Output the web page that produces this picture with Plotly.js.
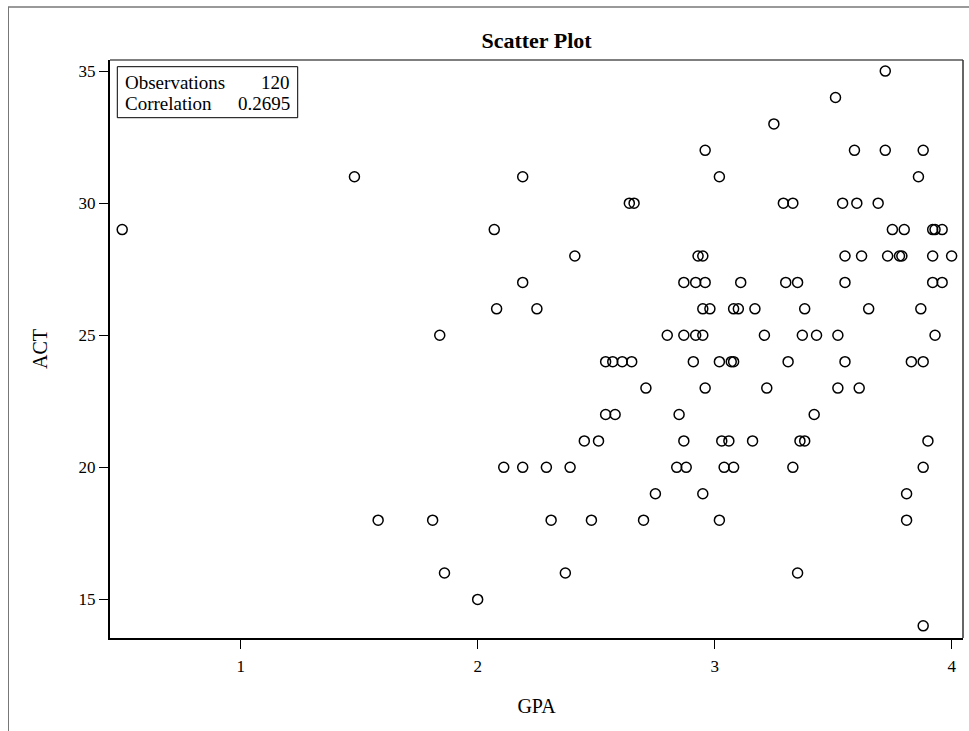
<!DOCTYPE html>
<html><head><meta charset="utf-8">
<script src="https://cdn.plot.ly/plotly-3.0.1.min.js"></script>
<style>html,body{margin:0;padding:0;background:#fff}#chart{width:969px;height:731px}</style>
</head><body><div id="chart"></div>
<script>
const gpa = [0.50,1.48,2.19,2.07,2.41,2.19,2.08,2.25,1.84,
2.11,2.19,2.29,2.39,
1.58,1.81,2.31,
1.86,2.37,
2.00,
2.96,3.02,2.64,2.66,2.93,2.95,
2.87,2.92,2.96,3.11,
2.95,2.98,3.08,3.10,3.17,
2.80,2.87,2.92,2.95,3.21,
2.54,2.57,2.61,2.65,2.91,3.02,3.07,3.08,
2.71,2.96,3.22,
2.54,2.58,2.85,
2.45,2.51,2.87,3.03,3.06,3.16,
2.84,2.88,3.04,3.08,
2.75,2.95,
2.48,2.70,3.02,
3.72,3.51,3.25,
3.59,3.72,3.88,
3.86,
3.29,3.33,3.54,3.60,3.69,
3.75,3.80,3.92,3.93,3.96,
3.55,3.62,3.73,3.78,3.79,3.92,4.00,
3.30,3.35,3.55,3.92,3.96,
3.38,3.65,3.87,
3.37,3.43,3.52,3.93,
3.31,3.55,3.83,3.88,
3.52,3.61,
3.42,
3.36,3.38,3.90,
3.33,3.88,
3.81,
3.81,
3.35,
3.88];
const act = [29,31,31,29,28,27,26,26,25,
20,20,20,20,
18,18,18,
16,16,
15,
32,31,30,30,28,28,
27,27,27,27,
26,26,26,26,26,
25,25,25,25,25,
24,24,24,24,24,24,24,24,
23,23,23,
22,22,22,
21,21,21,21,21,21,
20,20,20,20,
19,19,
18,18,18,
35,34,33,
32,32,32,
31,
30,30,30,30,30,
29,29,29,29,29,
28,28,28,28,28,28,28,
27,27,27,27,27,
26,26,26,
25,25,25,25,
24,24,24,24,
23,23,
22,
21,21,21,
20,20,
19,
18,
16,
14];
const xTicks = [1,2,3,4];
const yTicks = [15,20,25,30,35];
const statLabels = ['Observations','Correlation'];
const statValues = ['120','0.2695'];

const FONT = 'Liberation Serif, Times New Roman, serif';
// pixel -> paper helpers (plot area: x 110..963, y 60..638)
const px = v => (v - 110) / 853;
const py = v => (638 - v) / 578;

const trace = {
  x: gpa, y: act, type: 'scatter', mode: 'markers',
  marker: {symbol: 'circle-open', size: 10, color: 'black', line: {width: 1.5, color: 'black'}},
  hoverinfo: 'skip', showlegend: false
};

const annotations = [];
const rowY = [py(82), py(104)];
statLabels.forEach((lab, i) => {
  annotations.push({xref:'paper', yref:'paper', x: px(123), y: rowY[i], xanchor:'left', yanchor:'middle',
    text: lab, showarrow:false, font:{family:FONT, size:19, color:'black'}});
  annotations.push({xref:'paper', yref:'paper', x: px(292), y: rowY[i], xanchor:'right', yanchor:'middle',
    text: statValues[i], showarrow:false, font:{family:FONT, size:19, color:'black'}});
});

const shapes = [
  {type:'rect', xref:'paper', yref:'paper', x0: px(117.3), x1: px(297.7), y0: py(117.7), y1: py(66.7),
   line:{color:'black', width:1}, fillcolor:'white', layer:'below'},
  {type:'line', xref:'paper', yref:'paper', x0:0, x1:1, y0:1, y1:1, line:{color:'#555', width:1.5}},
  {type:'line', xref:'paper', yref:'paper', x0:1, x1:1, y0:0, y1:1, line:{color:'#333', width:1.5}},
  {type:'line', xref:'paper', yref:'paper', x0: px(8), x1: px(969), y0: py(7), y1: py(7), line:{color:'#999', width:2}},
  {type:'line', xref:'paper', yref:'paper', x0: px(8.5), x1: px(8.5), y0: py(7), y1: py(731), line:{color:'#777', width:1}}
];

const axisCommon = {
  showgrid:false, zeroline:false, showline:true, linecolor:'black', linewidth:2,
  ticks:'outside', ticklen:9, tickwidth:1.2, tickcolor:'black',
  tickfont:{family:FONT, size:17, color:'black'}, automargin:true
};

const layout = {
  width:969, height:731,
  margin:{l:110, r:6, t:60, b:93},
  paper_bgcolor:'white', plot_bgcolor:'white',
  title:{text:'<b>Scatter Plot</b>', font:{family:FONT, size:22, color:'black'},
    x:0.5, xref:'paper', xanchor:'center', y: 1 - 40/731, yref:'container', yanchor:'middle'},
  xaxis: Object.assign({}, axisCommon, {range:[0.4485, 4.048], tickvals:xTicks, ticktext:xTicks.map(String),
    ticklabelstandoff:3,
    title:{text:'GPA', font:{family:FONT, size:20, color:'black'}, standoff:24}}),
  yaxis: Object.assign({}, axisCommon, {range:[13.54, 35.42], tickvals:yTicks, ticktext:yTicks.map(String),
    title:{text:'ACT', font:{family:FONT, size:20, color:'black'}, standoff:26}}),
  shapes: shapes,
  annotations: annotations,
  hovermode:false
};

Plotly.newPlot('chart', [trace], layout, {displayModeBar:false, staticPlot:true});
</script>
</body></html>
